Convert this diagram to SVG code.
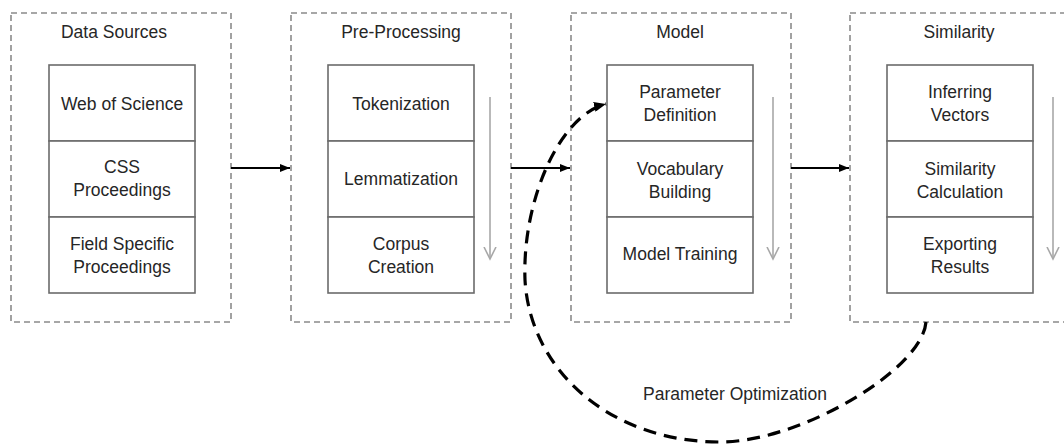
<svg xmlns="http://www.w3.org/2000/svg" width="1064" height="444" viewBox="0 0 1064 444">
  <style>
    .stage { fill: none; stroke: #8a8a8a; stroke-width: 1.6; stroke-dasharray: 6 4; }
    .cell { fill: #ffffff; stroke: #6b6b6b; stroke-width: 1.6; }
    .flow { fill: none; stroke: #a8a8a8; stroke-width: 1.6; }
    .link { fill: none; stroke: #000000; stroke-width: 2; marker-end: url(#head); }
    .loop { fill: none; stroke: #000000; stroke-width: 3.2; stroke-dasharray: 13 8; marker-end: url(#loophead); }
    text { font-family: "Liberation Sans", Arial, sans-serif; font-size: 17.5px; fill: #262626; text-anchor: middle; }
  </style>
  <defs>
    <marker id="head" markerWidth="10" markerHeight="8" refX="10" refY="4" orient="auto" markerUnits="userSpaceOnUse">
      <path d="M0,0 L10,4 L0,8 Z" fill="#000000"/>
    </marker>
    <marker id="loophead" markerWidth="12" markerHeight="10" refX="12" refY="5" orient="auto" markerUnits="userSpaceOnUse">
      <path d="M0,0 L12,5 L0,10 Z" fill="#000000"/>
    </marker>
    <marker id="chev" markerWidth="14" markerHeight="14" refX="12" refY="7" orient="auto" markerUnits="userSpaceOnUse">
      <path d="M0,1 L12,7 L0,13" fill="none" stroke="#a8a8a8" stroke-width="1.6"/>
    </marker>
  </defs>

  <!-- Stage 1: data sources -->
  <g id="data-sources">
    <rect class="stage" x="11" y="13" width="220" height="309"/>
    <text x="114" y="38">Data Sources</text>
    <rect class="cell" x="49" y="65" width="146" height="76"/>
    <rect class="cell" x="49" y="141" width="146" height="76"/>
    <rect class="cell" x="49" y="217" width="146" height="76"/>
    <text x="122" y="110">Web of Science</text>
    <text x="122" y="173">CSS</text>
    <text x="122" y="196">Proceedings</text>
    <text x="122" y="250">Field Specific</text>
    <text x="122" y="273">Proceedings</text>
  </g>

  <!-- Stage 2: pre-processing -->
  <g id="pre-processing">
    <rect class="stage" x="291" y="13" width="220" height="309"/>
    <text x="401" y="38">Pre-Processing</text>
    <rect class="cell" x="328" y="65" width="146" height="76"/>
    <rect class="cell" x="328" y="141" width="146" height="76"/>
    <rect class="cell" x="328" y="217" width="146" height="76"/>
    <text x="401" y="110">Tokenization</text>
    <text x="401" y="185">Lemmatization</text>
    <text x="401" y="250">Corpus</text>
    <text x="401" y="273">Creation</text>
    <line class="flow" x1="490" y1="97" x2="490" y2="259" marker-end="url(#chev)"/>
  </g>

  <!-- Stage 3: model -->
  <g id="model">
    <rect class="stage" x="571" y="13" width="220" height="309"/>
    <text x="680" y="38">Model</text>
    <rect class="cell" x="607" y="65" width="146" height="76"/>
    <rect class="cell" x="607" y="141" width="146" height="76"/>
    <rect class="cell" x="607" y="217" width="146" height="76"/>
    <text x="680" y="98">Parameter</text>
    <text x="680" y="121">Definition</text>
    <text x="680" y="175">Vocabulary</text>
    <text x="680" y="198">Building</text>
    <text x="680" y="260">Model Training</text>
    <line class="flow" x1="773" y1="97" x2="773" y2="259" marker-end="url(#chev)"/>
  </g>

  <!-- Stage 4: similarity -->
  <g id="similarity">
    <rect class="stage" x="850" y="13" width="220" height="309"/>
    <text x="959" y="38">Similarity</text>
    <rect class="cell" x="887" y="65" width="146" height="76"/>
    <rect class="cell" x="887" y="141" width="146" height="76"/>
    <rect class="cell" x="887" y="217" width="146" height="76"/>
    <text x="960" y="98">Inferring</text>
    <text x="960" y="121">Vectors</text>
    <text x="960" y="175">Similarity</text>
    <text x="960" y="198">Calculation</text>
    <text x="960" y="250">Exporting</text>
    <text x="960" y="273">Results</text>
    <line class="flow" x1="1053" y1="97" x2="1053" y2="259" marker-end="url(#chev)"/>
  </g>

  <!-- Connectors -->
  <g id="connectors">
    <line class="link" x1="231" y1="168" x2="290" y2="168"/>
    <line class="link" x1="511" y1="168" x2="570" y2="168"/>
    <line class="link" x1="791" y1="168" x2="849" y2="168"/>
    <path class="loop" d="M926,322 C922,370 800,442 720,442 C610,442 530,370 525,280 C522,200 560,115 606,104"/>
    <text x="735" y="400">Parameter Optimization</text>
  </g>
</svg>
